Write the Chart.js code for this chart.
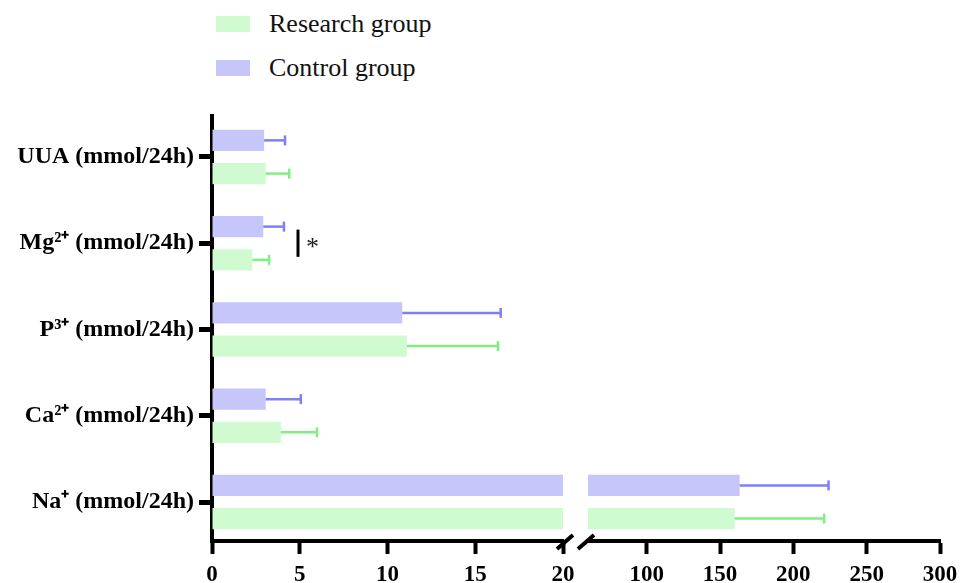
<!DOCTYPE html>
<html>
<head>
<meta charset="utf-8">
<script src="https://cdn.jsdelivr.net/npm/chart.js@4.4.0/dist/chart.umd.min.js"></script>
<style>
  body { margin: 0; background: #fff; width: 960px; height: 583px; position: relative; overflow: hidden; font-family: 'Liberation Serif', 'Times New Roman', serif; }
  canvas { position: absolute; top: 0; }
  #leftChart { left: 0; }
  #rightChart { left: 575px; }
  .legend-item { position: absolute; left: 216px; height: 30px; line-height: 30px; display: flex; align-items: center; font-size: 26px; color: #111; }
  .legend-box { width: 34px; height: 16px; margin-right: 19px; }
</style>
</head>
<body>
<div class="legend-item" style="top:9px"><span class="legend-box" style="background:#d0fbd0"></span>Research group</div>
<div class="legend-item" style="top:53px"><span class="legend-box" style="background:#c6c6fa"></span>Control group</div>
<canvas id="leftChart" width="600" height="583"></canvas>
<canvas id="rightChart" width="410" height="583"></canvas>
<script>
const categories = ['UUA (mmol/24h)', 'Mg²⁺ (mmol/24h)', 'P³⁺ (mmol/24h)', 'Ca²⁺ (mmol/24h)', 'Na⁺ (mmol/24h)'];
const researchMeans = [3.06, 2.3, 11.1, 3.93, 160];
const researchSD = [1.34, 0.95, 5.2, 2.05, 61];
const controlMeans = [2.97, 2.92, 10.84, 3.06, 163.4];
const controlSD = [1.19, 1.18, 5.61, 2.0, 60.6];
const leftTicks = [0, 5, 10, 15, 20];
const rightTicks = [100, 150, 200, 250, 300];

const serif = 'Liberation Serif';

// category i sits at y = i on a linear axis so the top/bottom margins can differ
function toPoints(means) {
    return means.map((v, i) => ({ x: v, y: i }));
}

function makeData() {
    return {
        datasets: [{
            label: 'Control group',
            data: toPoints(controlMeans),
            means: controlMeans,
            sd: controlSD,
            backgroundColor: '#c6c6fa',
            errColor: '#7f7ff8',
            categoryPercentage: 0.77,
            barPercentage: 0.64,
        }, {
            label: 'Research group',
            data: toPoints(researchMeans),
            means: researchMeans,
            sd: researchSD,
            backgroundColor: '#d0fbd0',
            errColor: '#7ff07f',
            categoryPercentage: 0.77,
            barPercentage: 0.64,
        }]
    }
}

// error bars, clipped to the plot area
const errorBars = {
    id: 'errorBars',
    afterDatasetsDraw(chart) {
        const ctx = chart.ctx, area = chart.chartArea, xs = chart.scales.x;
        ctx.save();
        ctx.beginPath();
        ctx.rect(area.left, area.top, area.right - area.left + 2, area.bottom - area.top);
        ctx.clip();
        chart.data.datasets.forEach((ds, i) => {
            chart.getDatasetMeta(i).data.forEach((bar, j) => {
                const x0 = xs.getPixelForValue(ds.means[j]);
                const x1 = xs.getPixelForValue(ds.means[j] + ds.sd[j]);
                ctx.strokeStyle = ds.errColor;
                ctx.lineWidth = 2.5;
                ctx.beginPath();
                ctx.moveTo(x0, bar.y);
                ctx.lineTo(x1, bar.y);
                ctx.stroke();
                ctx.beginPath();
                ctx.moveTo(x1, bar.y - 5);
                ctx.lineTo(x1, bar.y + 5);
                ctx.stroke();
            });
        });
        ctx.restore();
    }
};

// the "//" marks where the axis is broken
const axisBreak = {
    id: 'axisBreak',
    afterDraw(chart, args, opts) {
        const ctx = chart.ctx, area = chart.chartArea;
        const x = opts.side === 'right' ? area.right + 2 : area.left - 2;
        const y = area.bottom + 1;
        ctx.save();
        ctx.strokeStyle = '#000';
        ctx.lineWidth = 4;
        ctx.beginPath();
        ctx.moveTo(x - 8, y + 7);
        ctx.lineTo(x + 8, y - 7);
        ctx.stroke();
        ctx.restore();
    }
};

// Mg2+ significance mark
const signif = {
    id: 'signif',
    afterDraw(chart) {
        const ctx = chart.ctx, xs = chart.scales.x;
        const top = chart.getDatasetMeta(0).data[1].y + 3;
        const bottom = chart.getDatasetMeta(1).data[1].y - 3;
        const x = xs.getPixelForValue(4.9);
        ctx.save();
        ctx.strokeStyle = '#000';
        ctx.lineWidth = 3;
        ctx.beginPath();
        ctx.moveTo(x, top);
        ctx.lineTo(x, bottom);
        ctx.stroke();
        ctx.fillStyle = '#222';
        ctx.font = '26px ' + serif;
        ctx.textAlign = 'left';
        ctx.textBaseline = 'middle';
        ctx.fillText('*', x + 8, (top + bottom) / 2 + 5);
        ctx.restore();
    }
};

function xAxis(min, max) {
    return {
        min: min,
        max: max,
        ticks: {
            stepSize: 5,
            color: '#000',
            padding: 7,
            maxRotation: 0,
            font: { family: serif, size: 23, weight: 'bold' }
        },
        grid: { drawOnChartArea: false, tickLength: 13, tickWidth: 4, tickColor: '#000' },
        border: { display: true, color: '#000', width: 4 },
        afterFit(s) { s.height = 42; }
    }
}

function yAxis(show) {
    const axis = {
        type: 'linear',
        display: show,
        reverse: true,
        offset: false,
        min: -0.475,
        max: 4.452,
        afterBuildTicks(s) { s.ticks = categories.map((c, i) => ({ value: i })); },
        grid: { offset: false, drawOnChartArea: false, tickLength: 13, tickWidth: 5, tickColor: '#000' },
        border: { color: '#000', width: 4 },
        ticks: {
            color: '#000',
            padding: 5,
            font: { family: serif, size: 24, weight: 'bold' },
            callback: (v) => categories[v]
        }
    };
    if (show) axis.afterFit = (s) => { s.width = 212; };
    return axis;
}

const leftChart = new Chart(document.getElementById('leftChart'), {
    type: 'bar',
    data: makeData(),
    plugins: [errorBars, axisBreak, signif],
    options: {
        responsive: false,
        animation: false,
        indexAxis: 'y',
        layout: { padding: { top: 116, right: 37, left: 0, bottom: 0 } },
        scales: {
            x: xAxis(0, 20),
            y: yAxis(true)
        },
        plugins: {
            legend: { display: false },
            tooltip: { enabled: false },
            axisBreak: { side: 'right' }
        }
    }
})

const rightX = xAxis(60, 300);
rightX.afterBuildTicks = (s) => { s.ticks = rightTicks.map(v => ({ value: v })); };

const rightChart = new Chart(document.getElementById('rightChart'), {
    type: 'bar',
    data: makeData(),
    plugins: [errorBars, axisBreak],
    options: {
        responsive: false,
        animation: false,
        indexAxis: 'y',
        layout: { padding: { top: 116, right: 45, left: 13, bottom: 0 } },
        scales: {
            x: rightX,
            y: yAxis(false)
        },
        plugins: {
            legend: { display: false },
            tooltip: { enabled: false },
            axisBreak: { side: 'left' }
        }
    }
})
</script>
</body>
</html>
